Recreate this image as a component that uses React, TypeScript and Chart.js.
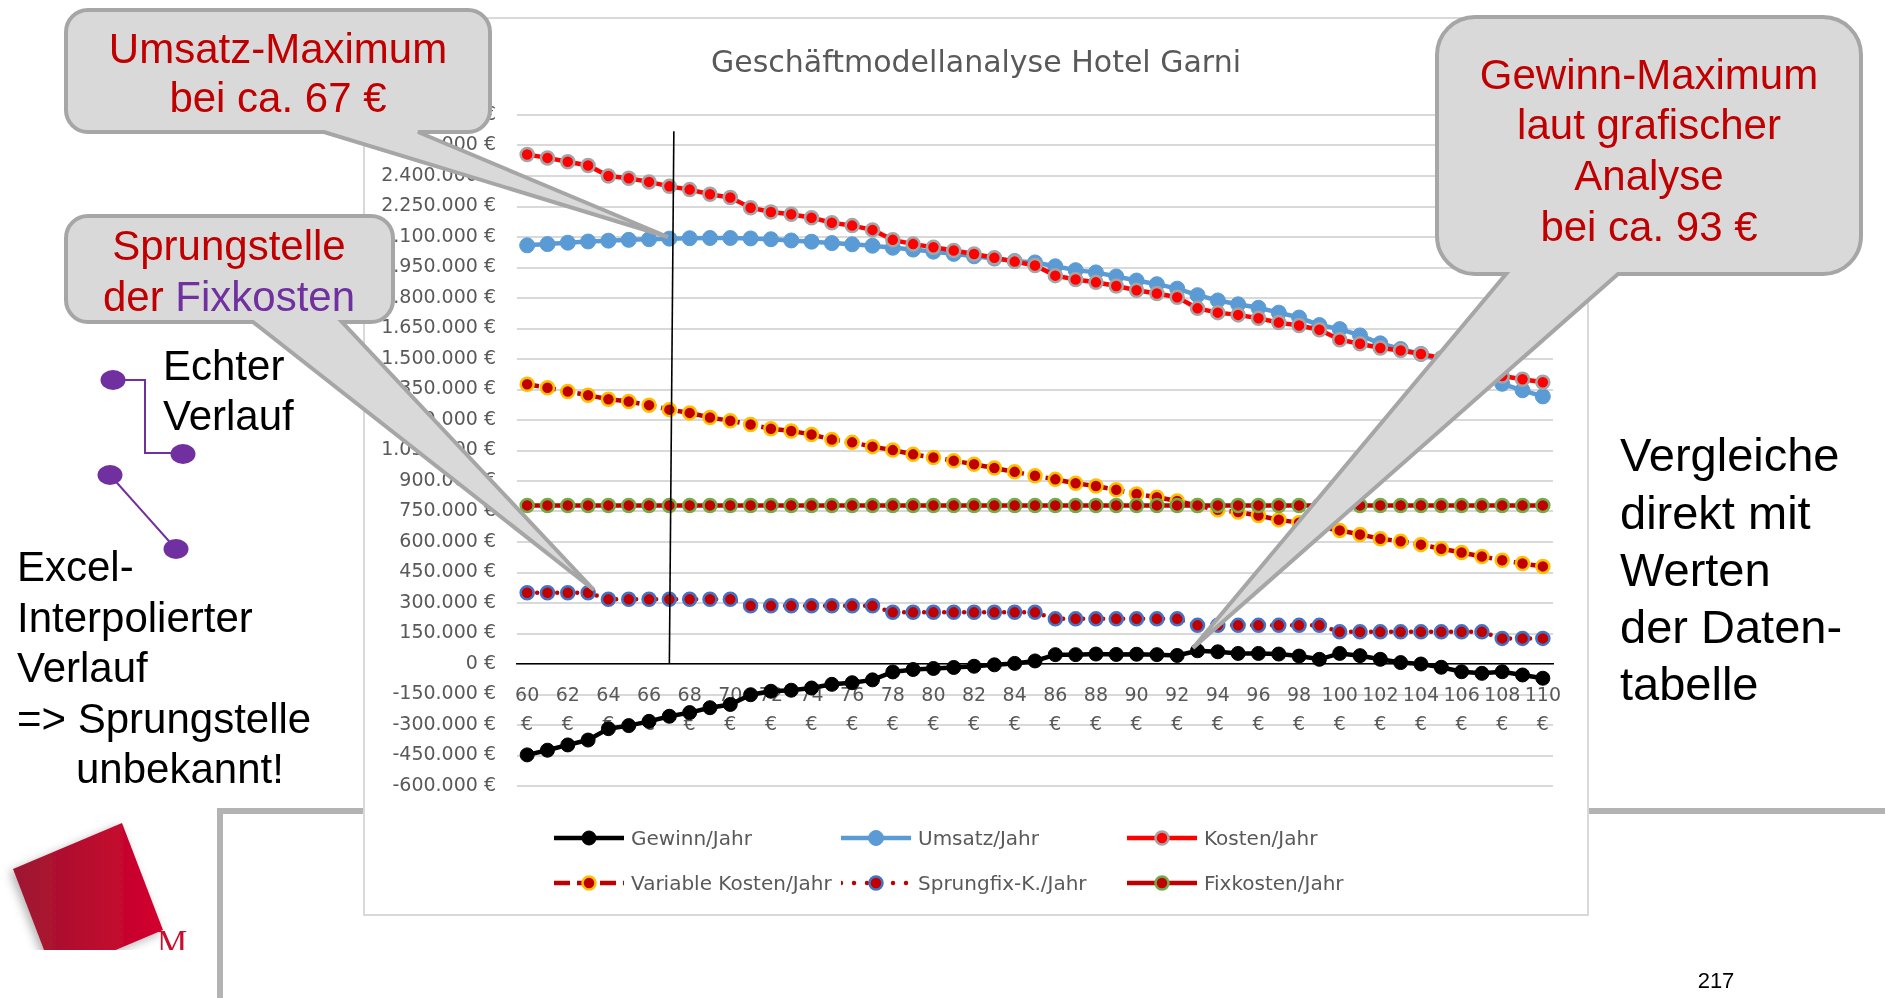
import React, { useEffect, useRef } from "react";
import { Chart, registerables } from "chart.js";

Chart.register(...registerables);

// ---------------- data ----------------
const PRICES = [
  60, 61, 62, 63, 64, 65, 66, 67, 68, 69, 70, 71, 72, 73, 74, 75, 76, 77, 78, 79,
  80, 81, 82, 83, 84, 85, 86, 87, 88, 89, 90, 91, 92, 93, 94, 95, 96, 97, 98, 99,
  100, 101, 102, 103, 104, 105, 106, 107, 108, 109, 110,
];

const GEWINN = [
  -447000, -424000, -398000, -374000, -318000, -303000, -282000, -257000, -239000, -215000,
  -199000, -151000, -134000, -129000, -118000, -100000, -92000, -78000, -39000, -27000,
  -22000, -17000, -11000, -4000, 3000, 15000, 46000, 46000, 49000, 47000,
  48000, 46000, 42000, 65000, 60000, 52000, 52000, 49000, 39000, 23000,
  52000, 41000, 23000, 7000, 0, -16000, -38000, -46000, -38000, -54000,
  -70000,
];

const UMSATZ = [
  2059000, 2065000, 2072000, 2078000, 2082000, 2086000, 2089000, 2092000, 2094000, 2095000,
  2095000, 2093000, 2089000, 2083000, 2077000, 2070000, 2064000, 2057000, 2047000, 2038000,
  2028000, 2017000, 2005000, 1994000, 1982000, 1975000, 1956000, 1937000, 1926000, 1906000,
  1886000, 1868000, 1846000, 1814000, 1788000, 1769000, 1752000, 1728000, 1704000, 1667000,
  1647000, 1616000, 1577000, 1549000, 1525000, 1489000, 1448000, 1421000, 1378000, 1346000,
  1316000,
];

const KOSTEN = [
  2506000, 2489000, 2470000, 2452000, 2400000, 2389000, 2371000, 2349000, 2333000, 2310000,
  2294000, 2244000, 2223000, 2212000, 2195000, 2170000, 2156000, 2135000, 2086000, 2065000,
  2050000, 2034000, 2016000, 1998000, 1979000, 1960000, 1910000, 1891000, 1877000, 1859000,
  1838000, 1822000, 1804000, 1749000, 1728000, 1717000, 1700000, 1679000, 1665000, 1644000,
  1595000, 1575000, 1554000, 1542000, 1525000, 1505000, 1486000, 1467000, 1416000, 1400000,
  1386000,
];

const VARIABLE = [
  1376000, 1359000, 1340000, 1322000, 1302000, 1291000, 1273000, 1251000, 1235000, 1212000,
  1196000, 1178000, 1157000, 1146000, 1129000, 1104000, 1090000, 1069000, 1052000, 1031000,
  1016000, 1000000, 982000, 964000, 945000, 926000, 908000, 889000, 875000, 857000,
  836000, 820000, 802000, 779000, 758000, 747000, 730000, 709000, 695000, 674000,
  657000, 637000, 616000, 604000, 587000, 567000, 548000, 529000, 510000, 494000,
  480000,
];

const SPRUNGFIX = [
  350000, 350000, 350000, 350000, 318000, 318000, 318000, 318000, 318000, 318000,
  318000, 286000, 286000, 286000, 286000, 286000, 286000, 286000, 254000, 254000,
  254000, 254000, 254000, 254000, 254000, 254000, 222000, 222000, 222000, 222000,
  222000, 222000, 222000, 190000, 190000, 190000, 190000, 190000, 190000, 190000,
  158000, 158000, 158000, 158000, 158000, 158000, 158000, 158000, 126000, 126000,
  126000,
];

const FIXKOSTEN = [
  780000, 780000, 780000, 780000, 780000, 780000, 780000, 780000, 780000, 780000,
  780000, 780000, 780000, 780000, 780000, 780000, 780000, 780000, 780000, 780000,
  780000, 780000, 780000, 780000, 780000, 780000, 780000, 780000, 780000, 780000,
  780000, 780000, 780000, 780000, 780000, 780000, 780000, 780000, 780000, 780000,
  780000, 780000, 780000, 780000, 780000, 780000, 780000, 780000, 780000, 780000,
  780000,
];

const SERIES_NAMES = [
  "Gewinn/Jahr",
  "Umsatz/Jahr",
  "Kosten/Jahr",
  "Variable Kosten/Jahr",
  "Sprungfix-K./Jahr",
  "Fixkosten/Jahr",
];

const TITLE = "Geschäftmodellanalyse Hotel Garni";
const Y_MIN = -600000;
const Y_MAX = 2700000;
const Y_STEP = 150000;
const MARK_INDEX = 7; // 67 €
const MARK_TOP = 2620000;

// ---------------- styles ----------------
const CHART_FONT = "'DejaVu Sans', 'Noto Sans', sans-serif";
const SLIDE_FONT = "'Liberation Sans', Arial, Helvetica, sans-serif";
const AXIS_GRAY = "#595959";
const DARK_RED = "#c00000";
const PURPLE = "#7030a0";

const SERIES_STYLE = [
  { line: "#000000", fill: "#000000", ring: "#000000", dash: [], legendDash: "", radius: 7, ringW: 1, order: 6 },
  { line: "#5b9bd5", fill: "#5b9bd5", ring: "#5b9bd5", dash: [], legendDash: "", radius: 7.5, ringW: 1, order: 5 },
  { line: "#ff0000", fill: "#ff0000", ring: "#a5a5a5", dash: [], legendDash: "", radius: 6.5, ringW: 2.5, order: 4 },
  { line: DARK_RED, fill: DARK_RED, ring: "#ffc000", dash: [12, 5], legendDash: "16 7", radius: 6.5, ringW: 2.5, order: 3 },
  { line: DARK_RED, fill: DARK_RED, ring: "#4472c4", dash: [0, 10], legendDash: "0 13", radius: 6.5, ringW: 2.5, order: 2 },
  { line: DARK_RED, fill: DARK_RED, ring: "#70ad47", dash: [], legendDash: "", radius: 6.5, ringW: 2.5, order: 1 },
];

function euro(v: number): string {
  const abs = Math.abs(Math.round(v)).toString().replace(/\B(?=(\d{3})+(?!\d))/g, ".");
  return (v < 0 ? "-" : "") + abs + " €";
}

// ---------------- chart ----------------
const CANVAS_W = 1222;
const CANVAS_H = 895;

function ChartCanvas() {
  const ref = useRef<HTMLCanvasElement | null>(null);

  useEffect(() => {
    if (!ref.current) return;
    const seriesData = [GEWINN, UMSATZ, KOSTEN, VARIABLE, SPRUNGFIX, FIXKOSTEN];

    const markerLine = {
      id: "markerLine",
      afterDatasetsDraw(chart: any) {
        const { ctx, scales } = chart;
        const x = scales.x;
        const y = scales.y;
        const px = x.getPixelForValue(MARK_INDEX);
        ctx.save();
        ctx.strokeStyle = "#000000";
        ctx.lineWidth = 1.6;
        ctx.beginPath();
        ctx.moveTo(px + 4.5, y.getPixelForValue(MARK_TOP));
        ctx.lineTo(px, y.getPixelForValue(0));
        ctx.stroke();
        ctx.restore();
      },
    };

    const chart = new Chart(ref.current, {
      type: "line",
      data: {
        labels: PRICES.map((p) => String(p)),
        datasets: SERIES_NAMES.map((name, i) => {
          const s = SERIES_STYLE[i];
          return {
            label: name,
            data: seriesData[i],
            borderColor: s.line,
            borderWidth: 4.5,
            borderDash: s.dash,
            borderCapStyle: i === 4 ? "round" : "butt",
            backgroundColor: s.fill,
            pointRadius: s.radius,
            pointBackgroundColor: s.fill,
            pointBorderColor: s.ring,
            pointBorderWidth: s.ringW,
            pointHoverRadius: s.radius,
            tension: 0,
            fill: false,
            order: s.order,
            yAxisID: "y",
          } as any;
        }),
      },
      options: {
        responsive: false,
        animation: false,
        devicePixelRatio: 1,
        events: [],
        layout: { padding: { left: 0, right: 0, top: 0, bottom: 128 } },
        plugins: {
          legend: { display: false },
          tooltip: { enabled: false },
          title: {
            display: true,
            text: TITLE,
            color: AXIS_GRAY,
            font: { family: CHART_FONT, size: 30, weight: "normal", lineHeight: 1.2 },
            padding: { top: 27, bottom: 33 },
          },
        },
        scales: {
          x: {
            type: "category",
            position: { y: 0 },
            offset: true,
            grid: { display: false, drawTicks: false },
            border: { display: true, color: "#000000", width: 1.5 },
            ticks: {
              autoSkip: false,
              maxRotation: 0,
              minRotation: 0,
              padding: 18,
              color: AXIS_GRAY,
              font: { family: CHART_FONT, size: 19, lineHeight: 1.5 },
              callback: (_v: any, index: number) =>
                index % 2 === 0 ? [String(PRICES[index]), "€"] : "",
            },
          },
          y: {
            position: "left",
            min: Y_MIN,
            max: Y_MAX,
            grid: { color: "#d9d9d9", lineWidth: 2, drawTicks: false },
            border: { display: false },
            ticks: {
              stepSize: Y_STEP,
              maxTicksLimit: 40,
              autoSkip: false,
              padding: 21,
              color: AXIS_GRAY,
              font: { family: CHART_FONT, size: 19 },
              callback: (v: any) => euro(Number(v)),
            },
            afterFit: (scale: any) => {
              scale.width = 152;
            },
          },
          // invisible spacer axis: keeps the plot's right margin while the title stays centred on the chart object
          yRight: {
            type: "linear",
            position: "right",
            min: Y_MIN,
            max: Y_MAX,
            grid: { display: false, drawTicks: false },
            border: { display: false },
            ticks: { display: false },
            afterFit: (scale: any) => {
              scale.width = 34;
            },
          },
        },
      } as any,
      plugins: [markerLine],
    });

    return () => chart.destroy();
  }, []);

  return (
    <canvas
      ref={ref}
      width={CANVAS_W}
      height={CANVAS_H}
      style={{ position: "absolute", left: 0, top: 0, width: CANVAS_W, height: CANVAS_H }}
    />
  );
}

// ---------------- legend ----------------
const LEGEND_POS = [
  { left: 189, top: 819 },
  { left: 476, top: 819 },
  { left: 762, top: 819 },
  { left: 189, top: 864 },
  { left: 476, top: 864 },
  { left: 762, top: 864 },
];

function LegendSymbol({ i }: { i: number }) {
  const s = SERIES_STYLE[i];
  return (
    <svg width={70} height={20} style={{ display: "block", flex: "none" }}>
      <line
        x1={0}
        y1={10}
        x2={70}
        y2={10}
        stroke={s.line}
        strokeWidth={4.5}
        strokeDasharray={s.legendDash || undefined}
        strokeLinecap={i === 4 ? "round" : "butt"}
      />
      <circle cx={35} cy={10} r={s.radius} fill={s.fill} stroke={s.ring} strokeWidth={s.ringW} />
    </svg>
  );
}

function Legend() {
  return (
    <>
      {SERIES_NAMES.map((name, i) => (
        <div
          key={name}
          style={{
            position: "absolute",
            left: LEGEND_POS[i].left,
            top: LEGEND_POS[i].top - 12,
            height: 24,
            display: "flex",
            alignItems: "center",
            gap: 7,
            whiteSpace: "nowrap",
          }}
        >
          <LegendSymbol i={i} />
          <span style={{ fontFamily: CHART_FONT, fontSize: 20, color: AXIS_GRAY, lineHeight: "24px" }}>
            {name}
          </span>
        </div>
      ))}
    </>
  );
}

// ---------------- slide decorations ----------------
type Callout = { x1: number; y1: number; x2: number; y2: number; r: number; bR: number; bL: number; tx: number; ty: number };

function calloutPath(c: Callout): string {
  const { x1, y1, x2, y2, r, bR, bL, tx, ty } = c;
  return (
    `M ${x1 + r} ${y1} L ${x2 - r} ${y1} A ${r} ${r} 0 0 1 ${x2} ${y1 + r} ` +
    `L ${x2} ${y2 - r} A ${r} ${r} 0 0 1 ${x2 - r} ${y2} ` +
    `L ${bR} ${y2} L ${tx} ${ty} L ${bL} ${y2} ` +
    `L ${x1 + r} ${y2} A ${r} ${r} 0 0 1 ${x1} ${y2 - r} ` +
    `L ${x1} ${y1 + r} A ${r} ${r} 0 0 1 ${x1 + r} ${y1} Z`
  );
}

const CALLOUT_UMSATZ: Callout = { x1: 66, y1: 10, x2: 490, y2: 132, r: 22, bR: 418, bL: 324, tx: 668, ty: 237 };
const CALLOUT_SPRUNG: Callout = { x1: 66, y1: 216, x2: 393, y2: 322, r: 22, bR: 342, bL: 253, tx: 594, ty: 590 };
const CALLOUT_GEWINN: Callout = { x1: 1437, y1: 17, x2: 1861, y2: 274, r: 38, bR: 1618, bL: 1506, tx: 1193, ty: 648 };

function Overlay() {
  const calloutStyle = { fill: "#d9d9d9", stroke: "#a6a6a6", strokeWidth: 4, strokeLinejoin: "miter" as const };
  return (
    <svg
      width={1885}
      height={998}
      style={{ position: "absolute", left: 0, top: 0, pointerEvents: "none" }}
    >
      <defs>
        <linearGradient id="logoGrad" x1="13" y1="0" x2="163" y2="0" gradientUnits="userSpaceOnUse">
          <stop offset="0" stopColor="#9c1830" />
          <stop offset="1" stopColor="#d4002e" />
        </linearGradient>
        <clipPath id="logoClip">
          <rect x={0} y={790} width={220} height={160} />
        </clipPath>
        <filter id="logoShadow" x="-30%" y="-30%" width="160%" height="160%">
          <feDropShadow dx={-3} dy={3} stdDeviation={5} floodColor="#000" floodOpacity={0.3} />
        </filter>
      </defs>

      {/* Callouts */}
      <path d={calloutPath(CALLOUT_UMSATZ)} {...calloutStyle} />
      <path d={calloutPath(CALLOUT_SPRUNG)} {...calloutStyle} />
      <path d={calloutPath(CALLOUT_GEWINN)} {...calloutStyle} />

      <g fontFamily={SLIDE_FONT} fontSize={42} fill={DARK_RED} textAnchor="middle">
        <text x={278} y={63}>Umsatz-Maximum</text>
        <text x={278} y={112}>bei ca. 67 €</text>
        <text x={229} y={260}>Sprungstelle</text>
        <text x={229} y={311}>
          der <tspan fill={PURPLE}>Fixkosten</tspan>
        </text>
        <text x={1649} y={89}>Gewinn-Maximum</text>
        <text x={1649} y={139}>laut grafischer</text>
        <text x={1649} y={190}>Analyse</text>
        <text x={1649} y={241}>bei ca. 93 €</text>
      </g>

      {/* Purple step / interpolation illustration */}
      <polyline points="113,380 145,380 145,453 183,453" fill="none" stroke={PURPLE} strokeWidth={2} />
      <line x1={110} y1={475} x2={176} y2={549} stroke={PURPLE} strokeWidth={2} />
      <ellipse cx={113} cy={380} rx={12.5} ry={10} fill={PURPLE} />
      <ellipse cx={183} cy={454} rx={12.5} ry={10} fill={PURPLE} />
      <ellipse cx={110} cy={475} rx={12.5} ry={10} fill={PURPLE} />
      <ellipse cx={176} cy={549} rx={12.5} ry={10} fill={PURPLE} />

      <g fontFamily={SLIDE_FONT} fontSize={42} fill="#000000">
        <text x={163} y={380}>Echter</text>
        <text x={163} y={430}>Verlauf</text>
        <text x={17} y={581}>Excel-</text>
        <text x={17} y={632}>Interpolierter</text>
        <text x={17} y={682}>Verlauf</text>
        <text x={17} y={733}>=&gt; Sprungstelle</text>
        <text x={76} y={783}>unbekannt!</text>
      </g>

      <g fontFamily={SLIDE_FONT} fontSize={47} fill="#000000">
        <text x={1620} y={471}>Vergleiche</text>
        <text x={1620} y={529}>direkt mit</text>
        <text x={1620} y={586}>Werten</text>
        <text x={1620} y={643}>der Daten-</text>
        <text x={1620} y={700}>tabelle</text>
      </g>

      <text x={1716} y={988} fontFamily={SLIDE_FONT} fontSize={22} fill="#000000" textAnchor="middle">
        217
      </text>

      {/* Logo */}
      <g clipPath="url(#logoClip)">
        <polygon points="122,823 163,930 54,976 13,869" fill="url(#logoGrad)" filter="url(#logoShadow)" />
        <text x={157} y={953} fontFamily="'Liberation Serif', 'DejaVu Serif', serif" fontSize={34} fill="#c8102e">
          M
        </text>
      </g>
    </svg>
  );
}

export default function App() {
  return (
    <div
      style={{
        position: "fixed",
        left: 0,
        top: 0,
        width: 1885,
        height: 998,
        overflow: "hidden",
        background: "#ffffff",
      }}
    >
      {/* slide frame lines */}
      <div style={{ position: "absolute", left: 217, top: 808, width: 1668, height: 6, background: "#b3b3b3" }} />
      <div style={{ position: "absolute", left: 217, top: 808, width: 6, height: 190, background: "#b3b3b3" }} />

      {/* Excel chart object */}
      <div
        style={{
          position: "absolute",
          left: 363,
          top: 17,
          width: 1226,
          height: 899,
          boxSizing: "border-box",
          border: "2px solid #d9d9d9",
          background: "#ffffff",
        }}
      >
        <ChartCanvas />
        <Legend />
      </div>

      <Overlay />
    </div>
  );
}
